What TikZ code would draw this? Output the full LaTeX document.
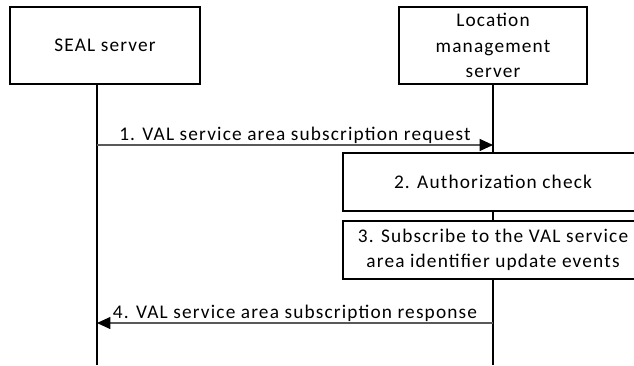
\documentclass[tikz,border=0pt]{standalone}
\usepackage{fontspec}
\setmainfont{Carlito}[LetterSpace=6]
\usetikzlibrary{arrows.meta,positioning}
\tikzset{
  entity/.style={draw, line width=1.2pt, align=center, fill=white, inner sep=0pt, minimum height=57.75pt},
  action/.style={draw, line width=1.2pt, align=center, fill=white, inner sep=0pt, minimum width=225pt, minimum height=43.5pt},
  lifeline/.style={line width=1.3pt},
  msg/.style={-{Triangle[length=10pt, width=9pt, color=black]}, line width=0.8pt, black!65},
  msglabel/.style={text=black, anchor=base, yshift=3.75pt}
}

\begin{document}
\begin{tikzpicture}[
  x=0.75pt,y=-0.75pt,
  every node/.append style={font=\fontsize{14.5}{19}\selectfont}
]
  \useasboundingbox (0,0) rectangle (634,365);
  \clip (0,0) rectangle (634,365);

  \node[entity, minimum width=142.5pt] (seal) at (105,45.5) {SEAL server};
  \node[entity, minimum width=141pt] (lms) at (493,45.5) {Location\\management\\server};

  \coordinate (sealtop) at (97,84);
  \coordinate (sealbot) at (97,365);
  \coordinate (lmsbot) at (493,365);
  \draw[lifeline] (sealtop) -- (sealbot);
  \draw[lifeline] (lms.south) -- (lmsbot);

  \node[action] (authcheck) at (493,182) {2. Authorization check};
  \node[action] (subscribe) at (493,250) {3. Subscribe to the VAL service\\area identifier update events};

  \coordinate (reqfrom) at (97,145);
  \coordinate (reqto) at (493,145);
  \coordinate (respfrom) at (493,323);
  \coordinate (respto) at (97,323);
  \draw[msg] (reqfrom) -- (reqto) node[msglabel, midway] {1. VAL service area subscription request};
  \draw[msg] (respfrom) -- (respto) node[msglabel, midway] {4. VAL service area subscription response};
\end{tikzpicture}
\end{document}
